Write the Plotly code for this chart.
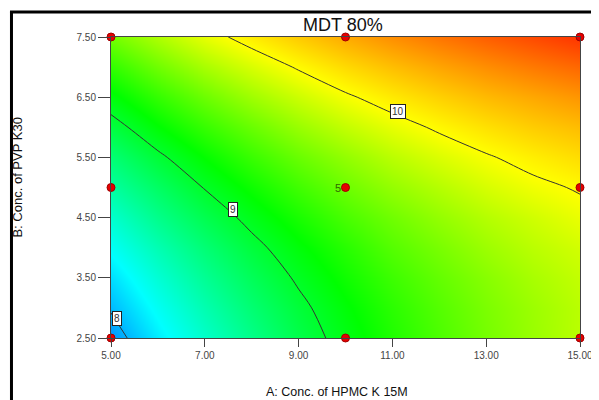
import plotly.graph_objects as go

# Factor levels (grid of the response surface)
A_vals = [5, 6, 7, 8, 9, 10, 11, 12, 13, 14, 15]
B_vals = [2.5, 3.0, 3.5, 4.0, 4.5, 5.0, 5.5, 6.0, 6.5, 7.0, 7.5]
# MDT 80% response, rows = B levels, columns = A levels
MDT = [
    [7.9, 8.19, 8.44, 8.67, 8.89, 9.08, 9.25, 9.4, 9.54, 9.66, 9.77],
    [8.02, 8.29, 8.53, 8.75, 8.95, 9.13, 9.29, 9.43, 9.56, 9.67, 9.77],
    [8.14, 8.4, 8.63, 8.84, 9.03, 9.2, 9.35, 9.48, 9.6, 9.71, 9.8],
    [8.28, 8.52, 8.74, 8.94, 9.12, 9.28, 9.43, 9.55, 9.67, 9.77, 9.85],
    [8.42, 8.66, 8.87, 9.06, 9.23, 9.39, 9.52, 9.64, 9.75, 9.84, 9.93],
    [8.58, 8.8, 9.01, 9.19, 9.36, 9.51, 9.64, 9.75, 9.86, 9.95, 10.02],
    [8.74, 8.96, 9.16, 9.34, 9.5, 9.64, 9.77, 9.88, 9.98, 10.07, 10.15],
    [8.92, 9.14, 9.33, 9.5, 9.66, 9.8, 9.92, 10.03, 10.13, 10.22, 10.29],
    [9.11, 9.32, 9.51, 9.68, 9.83, 9.97, 10.09, 10.2, 10.3, 10.38, 10.46],
    [9.31, 9.52, 9.71, 9.87, 10.02, 10.16, 10.28, 10.39, 10.49, 10.58, 10.66],
    [9.53, 9.73, 9.92, 10.08, 10.23, 10.37, 10.49, 10.6, 10.7, 10.79, 10.88],
]
# Design points
DESIGN_A = [5, 5, 5, 10, 10, 10, 15, 15, 15]
DESIGN_B = [2.5, 5, 7.5, 2.5, 5, 7.5, 2.5, 5, 7.5]
CENTER_A = 10
CENTER_B = 5
CENTER_COUNT = "5"
# Contour levels and their label anchors
LEVELS = [8, 9, 10]
LABEL_A = [5.13, 7.61, 11.12]
LABEL_B = [2.83, 4.63, 6.27]
X_TICKS = [5, 7, 9, 11, 13, 15]
Y_TICKS = [2.5, 3.5, 4.5, 5.5, 6.5, 7.5]

ZMIN, ZMAX = 7.6, 11.0
def stop(v):
    return (v - ZMIN) / (ZMAX - ZMIN)
colorscale = [
    [0.0, "rgb(0,60,255)"],
    [stop(8.25), "rgb(0,255,255)"],
    [stop(9.15), "rgb(0,255,0)"],
    [stop(10.0), "rgb(255,255,0)"],
    [1.0, "rgb(255,25,0)"],
]

FONT = "Liberation Sans, Arial, sans-serif"
fig = go.Figure()
fig.add_trace(go.Heatmap(x=A_vals, y=B_vals, z=MDT, zmin=ZMIN, zmax=ZMAX,
                         colorscale=colorscale, zsmooth="best", showscale=False,
                         hoverinfo="skip"))
fig.add_trace(go.Contour(x=A_vals, y=B_vals, z=MDT, showscale=False,
                         contours=dict(start=LEVELS[0], end=LEVELS[-1], size=1,
                                       coloring="none", showlabels=False),
                         line=dict(color="#333333", width=1, smoothing=1.0),
                         hoverinfo="skip"))
fig.add_trace(go.Scatter(x=DESIGN_A, y=DESIGN_B, mode="markers", cliponaxis=False,
                         marker=dict(symbol="circle", size=8, color="#e60000",
                                     line=dict(color="#a00000", width=1))))

fig.add_annotation(x=CENTER_A, y=CENTER_B, xref="x", yref="y", text=CENTER_COUNT, showarrow=False,
                   xanchor="right", yanchor="middle", xshift=-3,
                   font=dict(family=FONT, size=11, color="#2e6b00"))

for a, b, lv in zip(LABEL_A, LABEL_B, LEVELS):
    fig.add_annotation(x=a, y=b, xref="x", yref="y", text=str(lv), showarrow=False,
                       bgcolor="white", bordercolor="#222222", borderwidth=1, borderpad=1,
                       font=dict(family=FONT, size=10, color="#333333"))

fig.add_annotation(x=0.495, y=1.0415, xref="paper", yref="paper", text="MDT 80%",
                   showarrow=False, yanchor="middle",
                   font=dict(family=FONT, size=18, color="#111111"))
fig.add_annotation(x=0.482, y=-0.179, xref="paper", yref="paper", text="A: Conc. of HPMC K 15M",
                   showarrow=False, yanchor="middle",
                   font=dict(family=FONT, size=12.5, color="#111111"))
fig.add_annotation(x=-0.1983, y=0.533, xref="paper", yref="paper", text="B: Conc. of PVP K30",
                   showarrow=False, textangle=-90, xanchor="center", yanchor="middle",
                   font=dict(family=FONT, size=13, color="#111111"))

# outer frame (left and top edges)
fig.add_shape(type="line", xref="paper", yref="paper", x0=-0.2122, x1=-0.2122, y0=-0.25, y1=1.0847,
              line=dict(color="black", width=3))
fig.add_shape(type="line", xref="paper", yref="paper", x0=-0.2154, x1=1.05, y0=1.0830, y1=1.0830,
              line=dict(color="black", width=3))

fig.update_layout(width=599, height=392, margin=dict(l=103, r=27, t=29, b=62),
                  plot_bgcolor="white", paper_bgcolor="white", showlegend=False)
fig.update_xaxes(range=[5, 15], tickvals=X_TICKS, tickformat=".2f", showgrid=False, zeroline=False,
                 automargin=False,
                 ticks="outside", ticklen=8, tickcolor="#444444", showline=True, mirror=True,
                 linecolor="#444444", linewidth=1,
                 tickfont=dict(family=FONT, size=10, color="#444444"))
fig.update_yaxes(range=[2.5, 7.5], tickvals=Y_TICKS, tickformat=".2f", showgrid=False, zeroline=False,
                 automargin=False,
                 ticks="outside", ticklen=12, tickcolor="#444444", showline=True, mirror=True,
                 linecolor="#444444", linewidth=1,
                 tickfont=dict(family=FONT, size=10, color="#444444"))
fig.write_html("out.html")
